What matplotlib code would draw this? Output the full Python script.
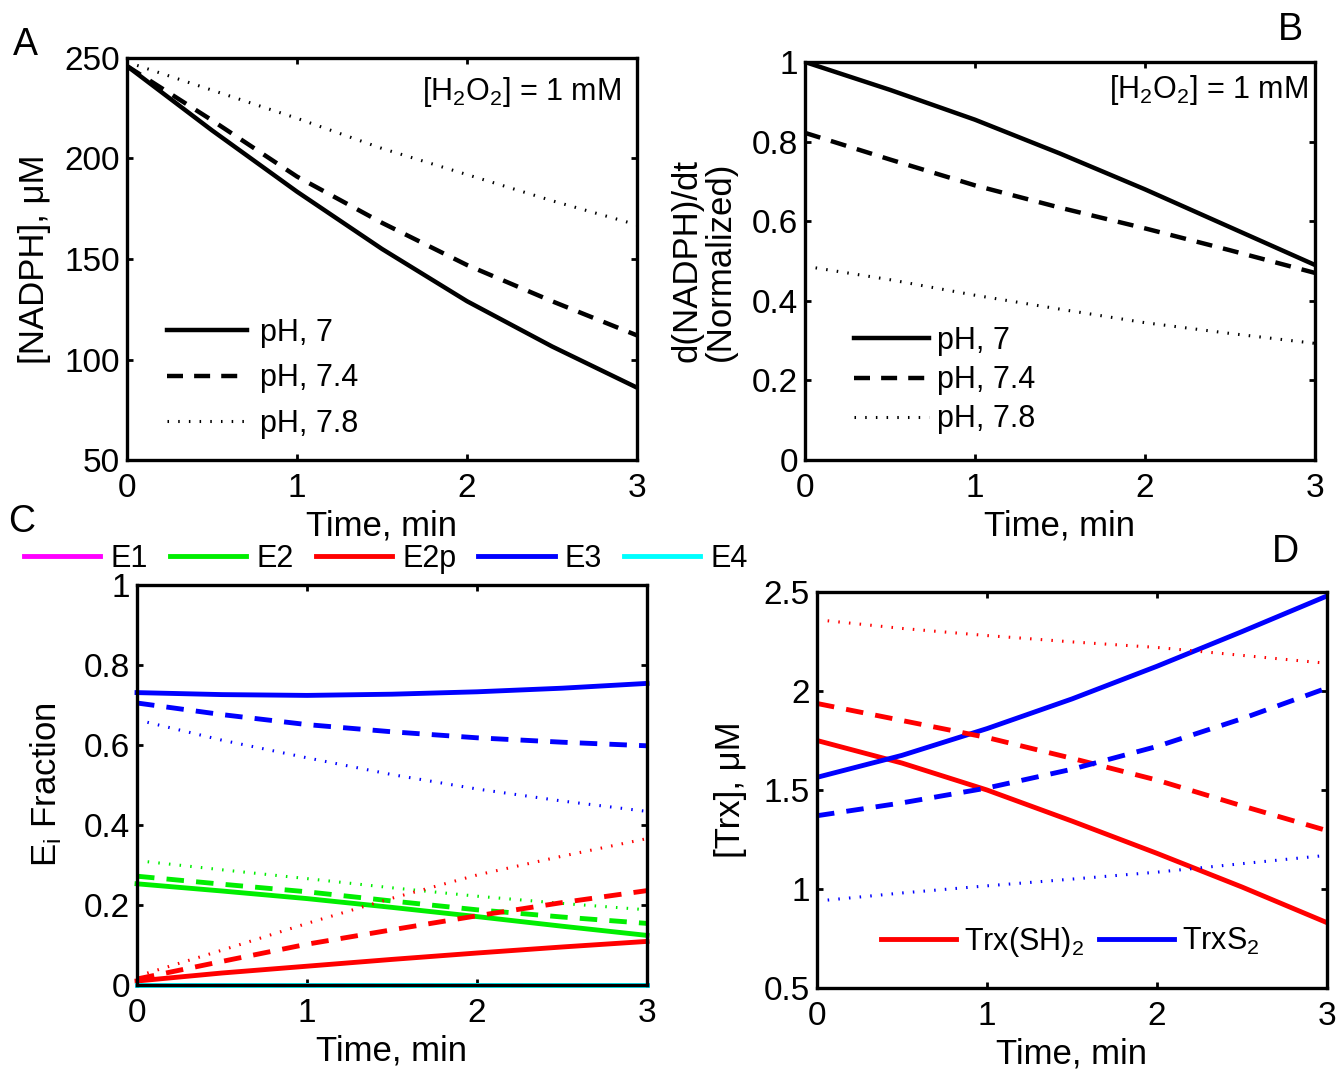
import matplotlib
matplotlib.use("Agg")
import matplotlib.pyplot as plt

plt.rcParams["font.family"] = ["Liberation Sans", "DejaVu Sans"]
plt.rcParams["mathtext.default"] = "regular"

# ---- datos ----
t = [0, 0.5, 1, 1.5, 2, 2.5, 3]

# Panel A: [NADPH] (uM)
nadph_ph70 = [246, 214, 183.5, 155, 129, 106.5, 86]
nadph_ph74 = [246, 219, 191, 168, 147, 129, 112]
nadph_ph78 = [248, 234, 220, 205, 192, 179, 167]

# Panel B: d(NADPH)/dt normalizado
rate_ph70 = [1.0, 0.93, 0.855, 0.77, 0.68, 0.585, 0.49]
rate_ph74 = [0.822, 0.755, 0.69, 0.634, 0.582, 0.527, 0.47]
rate_ph78 = [0.487, 0.453, 0.414, 0.379, 0.345, 0.318, 0.293]

# Panel C: fracciones Ei (pH 7, 7.4, 7.8)
e1 = [[0, 0, 0, 0, 0, 0, 0]] * 3
e2 = [[0.253, 0.235, 0.216, 0.194, 0.171, 0.147, 0.124],
      [0.272, 0.252, 0.233, 0.21, 0.188, 0.17, 0.154],
      [0.311, 0.288, 0.266, 0.243, 0.222, 0.204, 0.188]]
e2p = [[0.01, 0.03, 0.047, 0.064, 0.08, 0.095, 0.109],
       [0.015, 0.059, 0.102, 0.138, 0.173, 0.206, 0.236],
       [0.022, 0.087, 0.154, 0.217, 0.275, 0.322, 0.366]]
e3 = [[0.731, 0.726, 0.724, 0.727, 0.733, 0.742, 0.754],
      [0.705, 0.676, 0.651, 0.633, 0.618, 0.607, 0.598],
      [0.663, 0.612, 0.568, 0.526, 0.49, 0.46, 0.434]]
e4 = [[0, 0, 0, 0, 0, 0, 0]] * 3

# Panel D: [Trx] (uM)
trx_sh2 = [[1.75, 1.636, 1.5, 1.343, 1.18, 1.01, 0.83],
           [1.937, 1.851, 1.765, 1.66, 1.55, 1.42, 1.295],
           [2.36, 2.316, 2.28, 2.248, 2.22, 2.18, 2.14]]
trx_s2 = [[1.564, 1.675, 1.81, 1.96, 2.125, 2.3, 2.48],
          [1.37, 1.435, 1.51, 1.605, 1.72, 1.86, 2.015],
          [0.939, 0.98, 1.016, 1.05, 1.085, 1.128, 1.17]]

ph_labels = ["pH, 7", "pH, 7.4", "pH, 7.8"]

# ---- estilos ----
FS_TICK = 24
FS_LAB = 25
FS_LEG = 22
DASH = (0, (3.6, 2.5))
DOT = (0, (0.5, 3.0))
styles = ["-", DASH, DOT]
lw_k = [3.2, 3.2, 2.2]     # negro (A, B)
lw_c = [3.5, 3.5, 2.2]     # color (C, D)

fig = plt.figure(figsize=(13.37, 10.70), dpi=100)
W, H = 1337.0, 1070.0


def make_ax(x0, y0, x1, y1):
    ax = fig.add_axes([x0 / W, 1 - y1 / H, (x1 - x0) / W, (y1 - y0) / H])
    for s in ax.spines.values():
        s.set_linewidth(2.4)
    ax.tick_params(direction="in", top=True, right=True, length=4, width=2,
                   labelsize=FS_TICK)
    ax.tick_params(axis="x", pad=9.5)
    ax.tick_params(axis="y", pad=5)
    ax.set_xlim(0, 3)
    ax.set_xticks([0, 1, 2, 3])
    ax.set_xlabel("Time, min", fontsize=FS_LAB, labelpad=4)
    return ax


# A
axA = make_ax(127, 58, 637, 460)
for y, ls, lw, lab in zip([nadph_ph70, nadph_ph74, nadph_ph78], styles, lw_k, ph_labels):
    axA.plot(t, y, color="black", linestyle=ls, linewidth=lw, label=lab)
axA.set_ylim(50, 250)
axA.set_yticks([50, 100, 150, 200, 250])
axA.set_ylabel("[NADPH], μM", fontsize=FS_LAB, labelpad=10)
axA.text(0.97, 0.915, "[H$_2$O$_2$] = 1 mM", transform=axA.transAxes,
         ha="right", va="center", fontsize=FS_LEG)
axA.legend(loc="lower left", bbox_to_anchor=(0.025, -0.015), frameon=False,
           fontsize=FS_LEG, handlelength=2.6, handletextpad=0.42, labelspacing=0.5)

# B
axB = make_ax(805, 62, 1315, 460)
for y, ls, lw, lab in zip([rate_ph70, rate_ph74, rate_ph78], styles, lw_k, ph_labels):
    axB.plot(t, y, color="black", linestyle=ls, linewidth=lw, label=lab)
axB.set_ylim(0, 1)
axB.set_yticks([0, 0.2, 0.4, 0.6, 0.8, 1])
axB.set_yticklabels(["0", "0.2", "0.4", "0.6", "0.8", "1"])
axB.set_ylabel("d(NADPH)/dt\n(Normalized)", fontsize=FS_LAB, labelpad=11, linespacing=1.0)
axB.text(0.986, 0.93, "[H$_2$O$_2$] = 1 mM", transform=axB.transAxes,
         ha="right", va="center", fontsize=FS_LEG)
axB.legend(loc="lower left", bbox_to_anchor=(0.042, -0.005), frameon=False,
           fontsize=FS_LEG, handlelength=2.45, handletextpad=0.26, labelspacing=0.3)

# C
axC = make_ax(137, 585, 647, 985)
colors_c = ["#ff00ff", "#00ee00", "#ff0000", "#0000ff", "#00ffff"]
names_c = ["E1", "E2", "E2p", "E3", "E4"]
series_c = [e1, e2, e2p, e3, e4]
handles = []
for name, col, ser in zip(names_c, colors_c, series_c):
    for i in range(3):
        ln, = axC.plot(t, ser[i], color=col, linestyle=styles[i],
                       linewidth=lw_c[i], clip_on=False)
        if i == 0:
            handles.append(ln)
axC.set_ylim(0, 1)
axC.set_yticks([0, 0.2, 0.4, 0.6, 0.8, 1])
axC.set_yticklabels(["0", "0.2", "0.4", "0.6", "0.8", "1"])
axC.set_ylabel("E$_i$ Fraction", fontsize=FS_LAB, labelpad=14)
fig.legend(handles, names_c, loc="center", bbox_to_anchor=(386 / W, 1 - 559 / H),
           ncol=5, frameon=False, fontsize=FS_LEG, handlelength=2.5,
           handletextpad=0.33, columnspacing=0.72)

# D
axD = make_ax(817, 592, 1327, 988)
lh = []
for i in range(3):
    a, = axD.plot(t, trx_sh2[i], color="#ff0000", linestyle=styles[i], linewidth=lw_c[i])
    b, = axD.plot(t, trx_s2[i], color="#0000ff", linestyle=styles[i], linewidth=lw_c[i])
    if i == 0:
        lh = [a, b]
axD.set_ylim(0.5, 2.5)
axD.set_yticks([0.5, 1, 1.5, 2, 2.5])
axD.set_yticklabels(["0.5", "1", "1.5", "2", "2.5"])
axD.set_ylabel("[Trx], μM", fontsize=FS_LAB, labelpad=12)
axD.legend(lh, ["Trx(SH)$_2$", "TrxS$_2$"], loc="lower center",
           bbox_to_anchor=(0.496, 0.005), ncol=2, frameon=False, fontsize=FS_LEG,
           handlelength=2.45, handletextpad=0.26, columnspacing=0.5)

# letras de panel
for lab, x, y in [("A", 25, 45), ("B", 1290, 30), ("C", 22, 522), ("D", 1285, 552)]:
    fig.text(x / W, 1 - y / H, lab, fontsize=27, ha="center", va="center")

fig.savefig("out.png", dpi=100)
